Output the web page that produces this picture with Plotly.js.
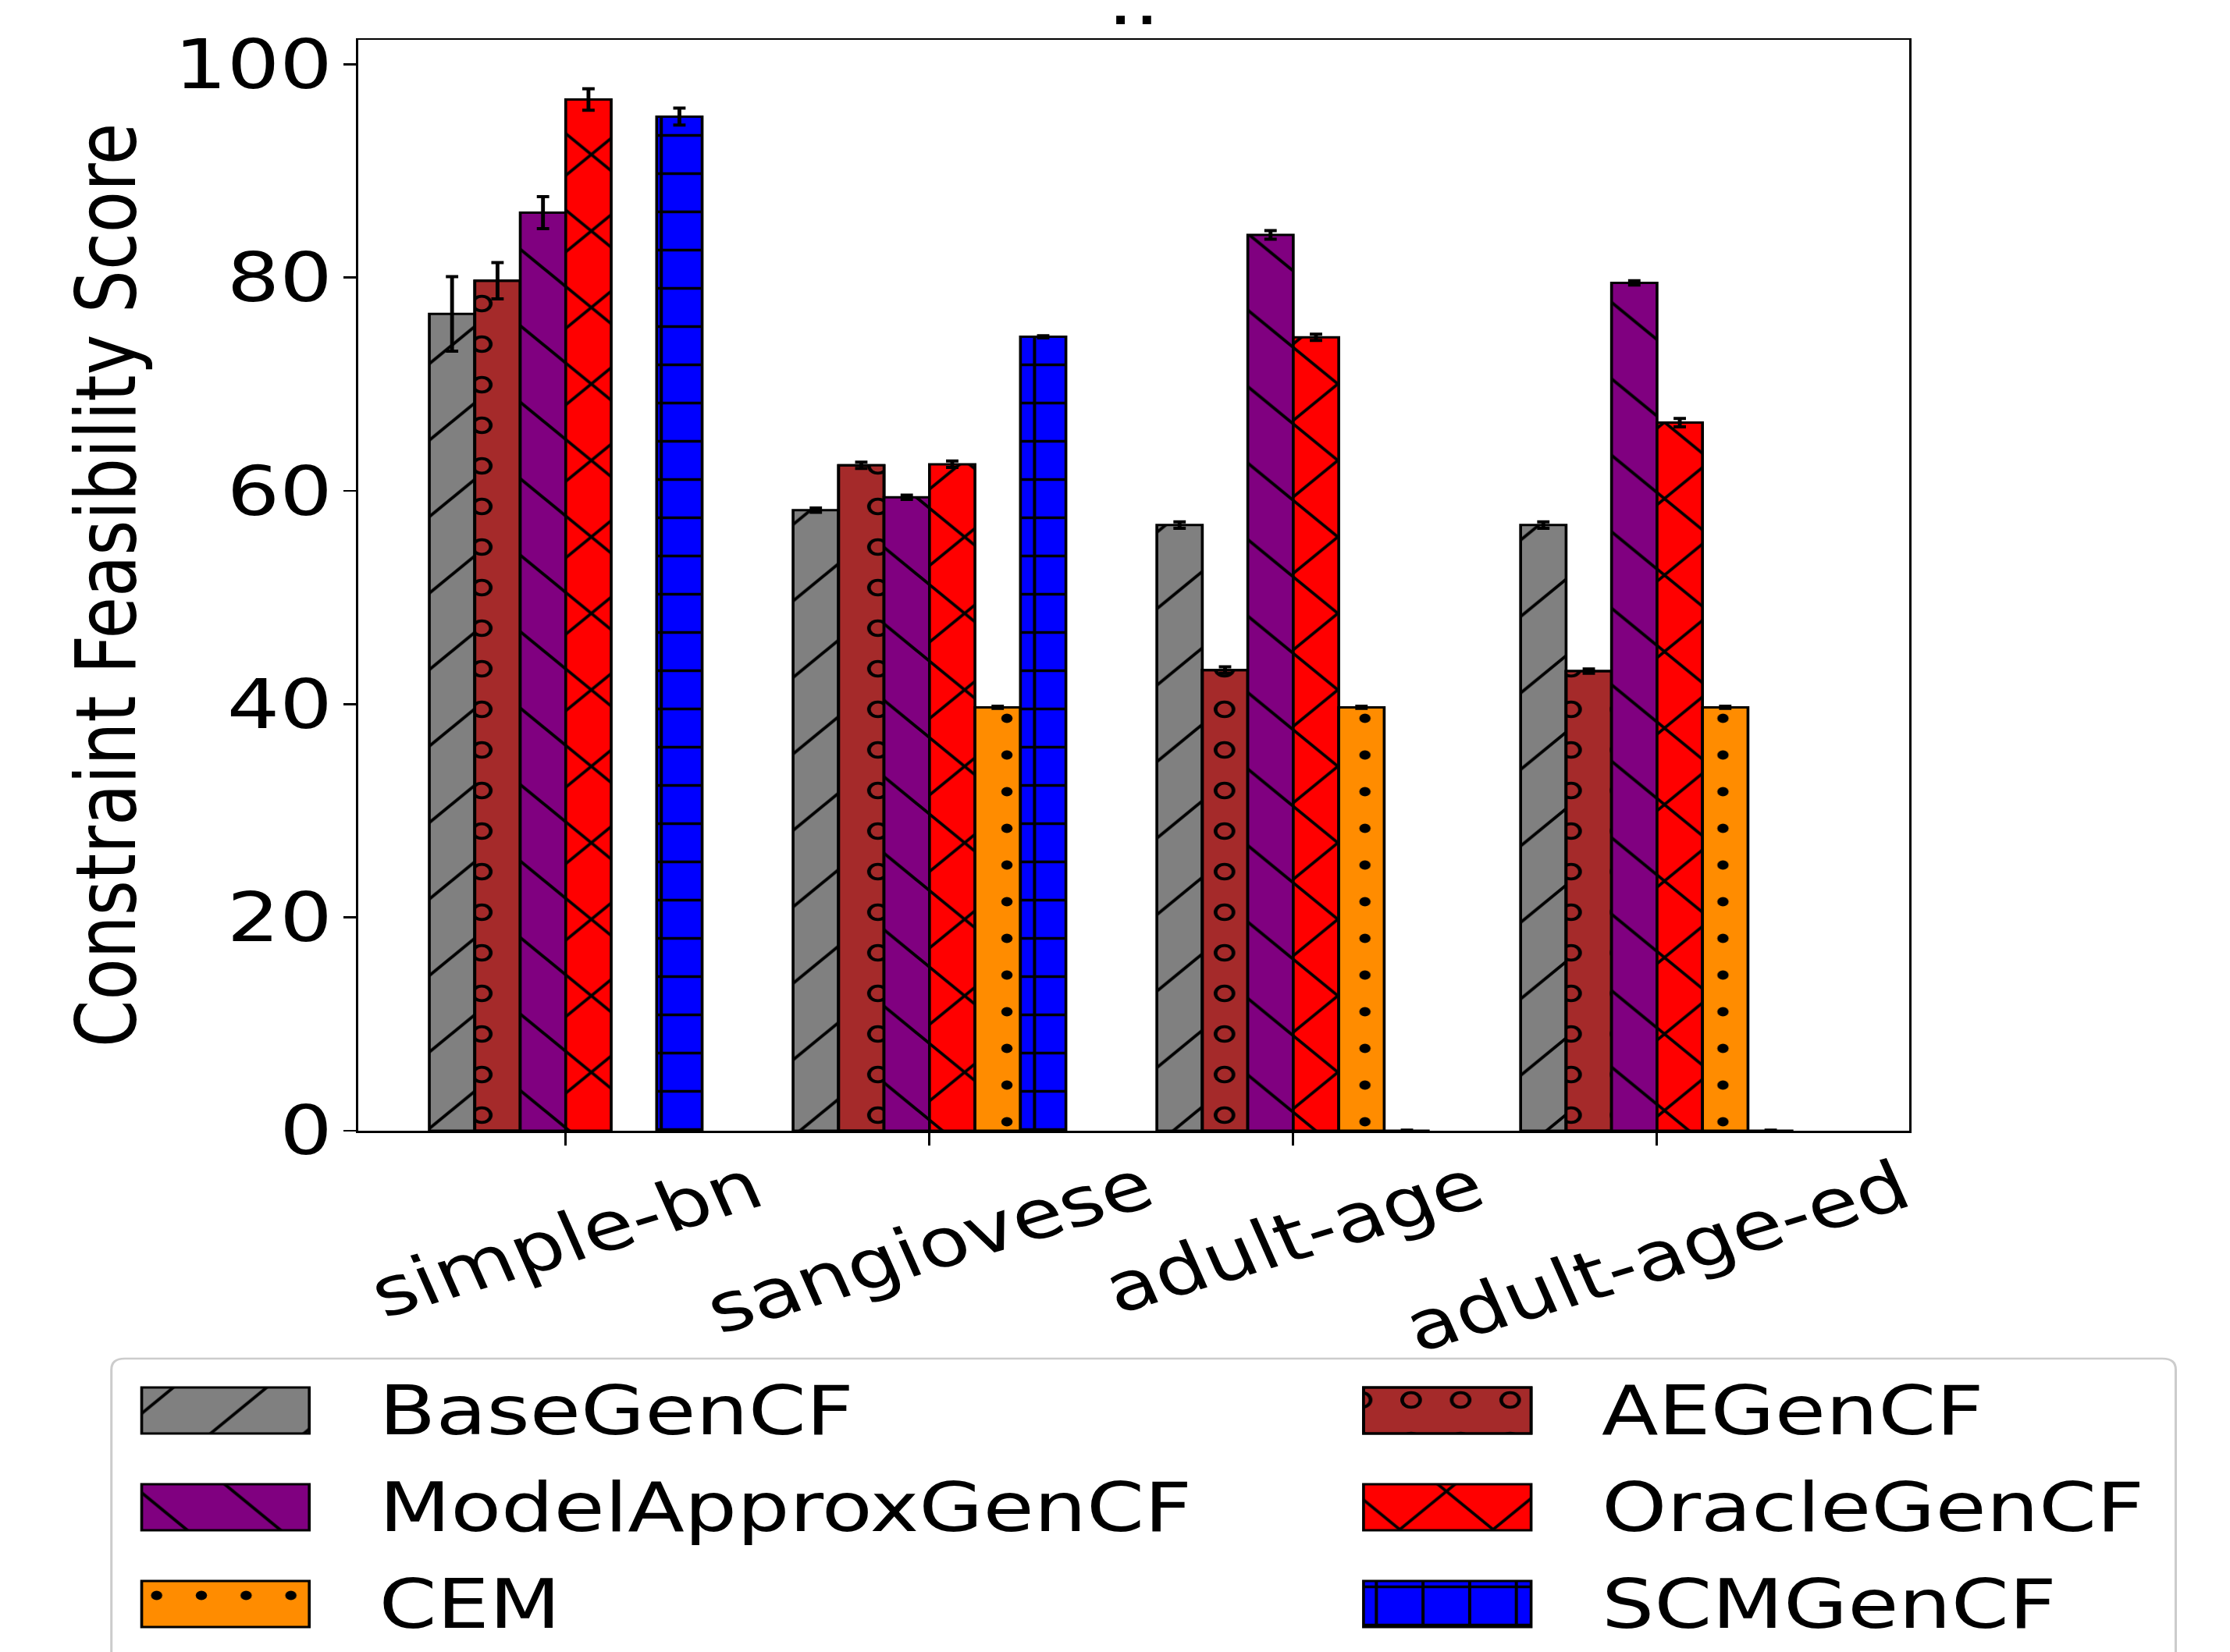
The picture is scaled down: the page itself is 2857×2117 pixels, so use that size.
<!DOCTYPE html>
<html><head><meta charset="utf-8">
<script src="https://cdn.plot.ly/plotly-3.0.1.min.js"></script>
<style>
html,body{margin:0;padding:0;background:#fff;overflow:hidden;}
#wrap{width:2857px;height:2117px;overflow:hidden;}
#chart{width:2342px;height:2117px;transform:scaleX(1.2199);transform-origin:0 0;}
</style></head><body><div id="wrap"><div id="chart"></div></div>
<script>
// ---------------- data ----------------
const categories = ['simple-bn', 'sangiovese', 'adult-age', 'adult-age-ed'];
const methods = ['BaseGenCF', 'AEGenCF', 'ModelApproxGenCF', 'OracleGenCF', 'CEM', 'SCMGenCF'];
const baseGenCF = [76.6, 58.2, 56.8, 56.8];
const baseGenCFErr = [3.5, 0.2, 0.3, 0.3];
const aeGenCF = [79.7, 62.4, 43.2, 43.1];
const aeGenCFErr = [1.7, 0.3, 0.3, 0.2];
const modelApproxGenCF = [86.1, 59.4, 84.0, 79.5];
const modelApproxGenCFErr = [1.5, 0.2, 0.4, 0.2];
const oracleGenCF = [96.7, 62.5, 74.4, 66.4];
const oracleGenCFErr = [1.0, 0.3, 0.3, 0.4];
const cem = [null, 39.7, 39.7, 39.7];
const cemErr = [0, 0.1, 0.1, 0.1];
const scmGenCF = [95.1, 74.45, 0, 0];
const scmGenCFErr = [0.8, 0.1, 0.05, 0.05];
const yTicks = [0, 20, 40, 60, 80, 100];
const titleText = '..';
const yTitle = 'Constraint Feasibility Score';

const values = [baseGenCF, aeGenCF, modelApproxGenCF, oracleGenCF, cem, scmGenCF];
const errors = [baseGenCFErr, aeGenCFErr, modelApproxGenCFErr, oracleGenCFErr, cemErr, scmGenCFErr];

// ---------------- styles / geometry ----------------
const W = 2342, H = 2117;
const L = 376, R = 2005, T = 51, B = 1449;
const FONT = 'DejaVu Sans';
const FS = 87;
const styles = [
  {color: '#808080', shape: '/', size: 69.3, sol: 0.052},
  {color: '#a52a2a', shape: '.', size: 52, sol: 0.15, ring: 0.066},
  {color: '#800080', shape: '\\', size: 69.3, sol: 0.052},
  {color: '#ff0000', shape: 'x', size: 69.3, sol: 0.095},
  {color: '#ff8c00', shape: '.', size: 47, sol: 0.05},
  {color: '#0000ff', shape: '+', size: 49, sol: 0.13}
];
const barW = 0.125;
const groupStart = -0.375;

// legend geometry (pixel space of helper axes)
const lgPatchW = 176, lgPatchH = 59;
const lgPatchCx = [236.8, 1520];
const lgPatchTop = 1778, lgRowStep = 124;
const lgTextX = [396, 1680];
const lgFrame = {x0: 117, x1: 2285, y0: 1741, y1: 2250, r: 14};

function markerFor(s, ring) {
  if (ring) {
    return {color: 'rgba(0,0,0,0)', line: {color: 'black', width: 3},
      pattern: {shape: '.', size: s.size, solidity: s.ring, fillmode: 'replace',
        fgcolor: s.color, fgopacity: 1, bgcolor: 'rgba(0,0,0,0)'}};
  }
  return {color: s.color, line: {color: 'black', width: 3},
    pattern: {shape: s.shape, size: s.size, solidity: s.sol, fgcolor: 'black', fgopacity: 1, bgcolor: s.color}};
}

const traces = [];
methods.forEach((m, i) => {
  const s = styles[i];
  const off = groupStart + i * barW;
  const err = {type: 'data', array: errors[i], visible: true, color: 'black', thickness: 4, width: 6.5};
  traces.push({
    type: 'bar', name: m, x: categories, y: values[i], offset: off, width: barW,
    marker: markerFor(s, false), error_y: s.ring ? {visible: false} : err,
    showlegend: false, hoverinfo: 'skip'
  });
  if (s.ring) {
    traces.push({
      type: 'bar', name: m + ' rings', x: categories, y: values[i], offset: off, width: barW,
      marker: markerFor(s, true), error_y: err, showlegend: false, hoverinfo: 'skip'
    });
  }
});

// custom legend patches
const annotations = [];
methods.forEach((m, i) => {
  const s = styles[i];
  const col = i % 2, row = Math.floor(i / 2);
  const top = lgPatchTop + row * lgRowStep;
  const base = {type: 'bar', x: [lgPatchCx[col]], y: [lgPatchH], base: [top], width: [lgPatchW],
    xaxis: 'x2', yaxis: 'y2', showlegend: false, hoverinfo: 'skip'};
  traces.push(Object.assign({}, base, {name: m, marker: markerFor(s, false)}));
  if (s.ring) traces.push(Object.assign({}, base, {name: m + ' rings', marker: markerFor(s, true)}));
  annotations.push({xref: 'x2', yref: 'y2', x: lgTextX[col], y: top + lgPatchH / 2, text: m,
    xanchor: 'left', yanchor: 'middle', showarrow: false, font: {family: FONT, size: FS, color: 'black'}});
});

categories.forEach(c => {
  annotations.push({xref: 'x', yref: 'y', x: c, y: 0, text: c, textangle: -20,
    xanchor: 'center', yanchor: 'top', yshift: -15, showarrow: false,
    font: {family: FONT, size: FS, color: 'black'}});
});

annotations.push({xref: 'paper', yref: 'paper', x: (L + R) / 2 / W, y: 1 - 54 / H, text: titleText,
  xanchor: 'center', yanchor: 'bottom', showarrow: false, font: {family: FONT, size: FS, color: 'black'}});

const f = lgFrame;
const framePath = `M${f.x0},${f.y1} V${f.y0 + f.r} Q${f.x0},${f.y0} ${f.x0 + f.r},${f.y0} H${f.x1 - f.r} Q${f.x1},${f.y0} ${f.x1},${f.y0 + f.r} V${f.y1}`;

const layout = {
  width: W, height: H,
  margin: {l: 0, r: 0, t: 0, b: 0, pad: 0},
  paper_bgcolor: 'white', plot_bgcolor: 'rgba(0,0,0,0)',
  font: {family: FONT, size: FS, color: 'black'},
  barmode: 'overlay',
  showlegend: false,
  xaxis: {domain: [L / W, R / W], anchor: 'y', type: 'category', categoryorder: 'array', categoryarray: categories,
    range: [-0.571, 3.693], showline: true, mirror: true, linecolor: 'black', linewidth: 2.5,
    ticks: 'outside', ticklen: 16, tickwidth: 2.5, tickcolor: 'black', showticklabels: false,
    showgrid: false, zeroline: false, fixedrange: true},
  yaxis: {domain: [1 - B / H, 1 - T / H], anchor: 'x', range: [0, 102.3], tickvals: yTicks,
    ticktext: yTicks.map(String),
    showline: true, mirror: true, linecolor: 'black', linewidth: 2.5,
    ticks: 'outside', ticklen: 13, tickwidth: 2.5, tickcolor: 'black', ticklabelstandoff: -6,
    tickfont: {family: FONT, size: FS, color: 'black'},
    title: {text: yTitle, font: {family: FONT, size: FS, color: 'black'}, standoff: 12},
    showgrid: false, zeroline: false, fixedrange: true},
  xaxis2: {domain: [0, 1], anchor: 'y2', range: [0, W], visible: false, fixedrange: true},
  yaxis2: {domain: [0, 1], anchor: 'x2', range: [H, 0], visible: false, fixedrange: true},
  shapes: [{type: 'path', xref: 'x2', yref: 'y2', path: framePath, line: {color: '#cccccc', width: 2.5}}],
  annotations: annotations
};

Plotly.newPlot('chart', traces, layout, {staticPlot: true, displayModeBar: false});
</script></body></html>
